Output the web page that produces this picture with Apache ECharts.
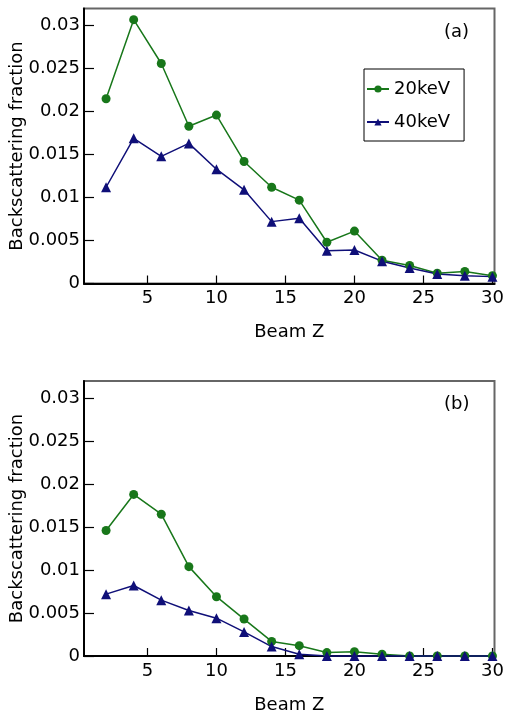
<!DOCTYPE html>
<html>
<head>
<meta charset="utf-8">
<script src="https://cdn.jsdelivr.net/npm/echarts@6/dist/echarts.min.js"></script>
<style>
html,body{margin:0;padding:0;background:#fff;}
#chart{width:508px;height:711px;}
</style>
</head>
<body>
<div id="chart"></div>
<script>
// ---- data ----
var beamZ = [2, 4, 6, 8, 10, 12, 14, 16, 18, 20, 22, 24, 26, 28, 30];
var a20keV = [0.0215, 0.0307, 0.0256, 0.0183, 0.0196, 0.0142, 0.0112, 0.0097, 0.0048, 0.0061, 0.0027, 0.0021, 0.0012, 0.0014, 0.0009];
var a40keV = [0.0112, 0.0169, 0.0148, 0.0163, 0.0133, 0.0109, 0.0072, 0.0076, 0.0038, 0.0039, 0.0026, 0.0018, 0.0011, 0.0009, 0.0008];
var b20keV = [0.0146, 0.0188, 0.0165, 0.0104, 0.0069, 0.0043, 0.0017, 0.0012, 0.0004, 0.0005, 0.0002, 0, 0, 0, 0];
var b40keV = [0.0072, 0.0082, 0.0065, 0.0053, 0.0044, 0.0028, 0.0011, 0.0002, 0, 0, 0, 0, 0, 0, 0];
var xTicks = [5, 10, 15, 20, 25, 30];
var yTicks = [0, 0.005, 0.01, 0.015, 0.02, 0.025, 0.03];
var seriesNames = ['20keV', '40keV'];
var panelLabels = ['(a)', '(b)'];

var FONT = 'DejaVu Sans';
var GREEN = '#18771a';
var NAVY = '#0f0f78';

function pairs(xs, ys) { return xs.map(function (x, i) { return [x, ys[i]]; }); }

function xAxis(idx) {
  return {
    type: 'value', gridIndex: idx, min: 0.4, max: 30.15,
    name: 'Beam Z', nameLocation: 'middle', nameGap: 40, nameMoveOverlap: false,
    nameTextStyle: { fontFamily: FONT, fontSize: 18, color: '#000' },
    axisLine: { show: true, onZero: false, lineStyle: { color: '#000', width: 2 } },
    axisTick: { show: true, inside: true, length: 8, customValues: xTicks, lineStyle: { color: '#000', width: 1.2 } },
    axisLabel: { customValues: xTicks, margin: 6, fontFamily: FONT, fontSize: 18, color: '#000' },
    splitLine: { show: false }
  };
}
function yAxis(idx) {
  return {
    type: 'value', gridIndex: idx, min: 0, max: 0.032,
    name: 'Backscattering fraction', nameLocation: 'middle', nameGap: 57.5, nameRotate: 90, nameMoveOverlap: false,
    nameTextStyle: { fontFamily: FONT, fontSize: 18, color: '#000' },
    axisLine: { show: true, lineStyle: { color: '#000', width: 2 } },
    axisTick: { show: true, inside: true, length: 10, customValues: yTicks, lineStyle: { color: '#000', width: 1.2 } },
    axisLabel: { customValues: yTicks, margin: 4, fontFamily: FONT, fontSize: 18, color: '#000',
      formatter: function (v) { return String(+v.toFixed(4)); } },
    splitLine: { show: false }
  };
}
function line(name, idx, ys, color, symbol, size) {
  return {
    name: name, type: 'line', xAxisIndex: idx, yAxisIndex: idx,
    data: pairs(beamZ, ys), symbol: symbol, symbolSize: size, showSymbol: true,
    lineStyle: { color: color, width: 1.5 }, itemStyle: { color: color },
    clip: false, animation: false, z: 3
  };
}

var chart = echarts.init(document.getElementById('chart'), null, { renderer: 'canvas' });
chart.setOption({
  backgroundColor: '#fff',
  animation: false,
  grid: [
    { left: 84, right: 13.5, top: 8.5, height: 275, show: true, borderColor: '#666', borderWidth: 2, backgroundColor: 'transparent', containLabel: false, outerBoundsMode: 'none' },
    { left: 84, right: 13.5, top: 381, height: 275, show: true, borderColor: '#666', borderWidth: 2, backgroundColor: 'transparent', containLabel: false, outerBoundsMode: 'none' }
  ],
  xAxis: [xAxis(0), xAxis(1)],
  yAxis: [yAxis(0), yAxis(1)],
  legend: {
    data: seriesNames, orient: 'vertical', left: 364, top: 69,
    itemWidth: 22, itemHeight: 9, itemGap: 15,
    padding: [11, 14, 10, 2],
    borderColor: '#000', borderWidth: 1, backgroundColor: '#fff',
    textStyle: { fontFamily: FONT, fontSize: 18, color: '#000' }
  },
  graphic: [
    { type: 'text', left: 444, top: 23, style: { text: panelLabels[0], font: '18px "DejaVu Sans"', fill: '#000' } },
    { type: 'text', left: 444, top: 395, style: { text: panelLabels[1], font: '18px "DejaVu Sans"', fill: '#000' } }
  ],
  series: [
    line(seriesNames[0], 0, a20keV, GREEN, 'circle', 9),
    line(seriesNames[1], 0, a40keV, NAVY, 'triangle', 10),
    line(seriesNames[0], 1, b20keV, GREEN, 'circle', 9),
    line(seriesNames[1], 1, b40keV, NAVY, 'triangle', 10)
  ]
});
</script>
</body>
</html>
